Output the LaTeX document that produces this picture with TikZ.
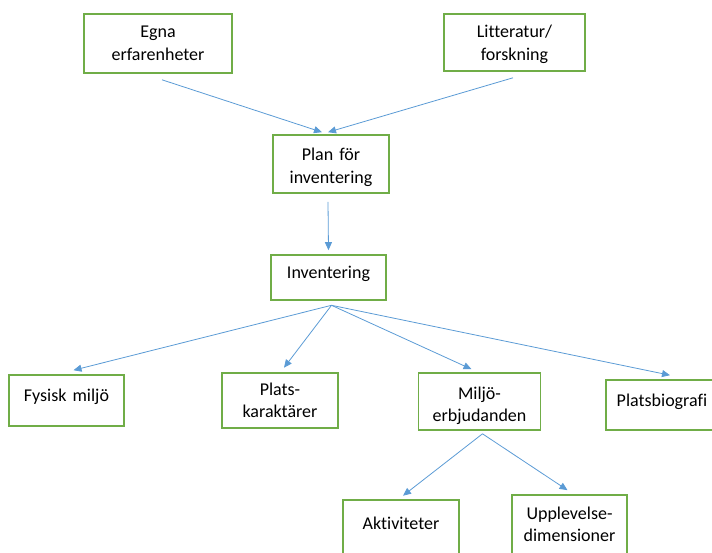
\documentclass[tikz,border=0pt]{standalone}
\usepackage{fontspec}
\setmainfont{Carlito}[Ligatures=NoCommon]
\usetikzlibrary{arrows.meta}
\definecolor{boxgreen}{HTML}{70AD47}
\definecolor{linkblue}{HTML}{5B9BD5}
\tikzset{
  box/.style={draw=boxgreen, line width=1.6pt, inner sep=0pt, align=center,
    font=\fontsize{18}{22.5}\selectfont},
  link/.style={draw=linkblue, line width=0.8pt, -{Triangle[length=8pt,width=7pt]}}
}

\begin{document}
\begin{tikzpicture}[x=1pt,y=1pt]
\useasboundingbox (0,0) rectangle (712,552);
\clip (0,0) rectangle (712,552);
\node[box, text width=148pt, text height=24pt, text depth=35pt] (egna) at (158,508.5) {Egna\\erfarenheter};
\node[box, text width=141pt, text height=24pt, text depth=33pt] (lit) at (514.5,509.5) {Litteratur/\\forskning};
\node[box, text width=116pt, text height=26pt, text depth=32pt] (plan) at (331,388) {Plan för\\inventering};
\node[box, text width=115pt, text height=24pt, text depth=21pt] (inv) at (328.5,274.5) {Inventering};
\node[box, text width=115pt, text height=26pt, text depth=25pt] (fys) at (66.5,151.5) {Fysisk miljö};
\node[box, text width=116pt, text height=22pt, text depth=33pt] (plats) at (280,151.5) {Plats-\\karaktärer};
\node[box, text width=122pt, text height=26pt, text depth=31pt] (miljo) at (479.5,150.5) {Miljö-\\erbjudanden};
\node[box, text width=112pt, text height=26pt, text depth=24pt] (bio) at (662,147) {Platsbiografi};
\node[box, text width=116pt, text height=29pt, text depth=41pt] (akt) at (401,17) {Aktiviteter};
\node[box, text width=115pt, text height=24pt, text depth=51pt] (upp) at (569.5,19.5) {Upplevelse-\\dimensioner};
% free ends of the arrows
\coordinate (egna-out) at ([shift={(4,-6)}]egna.south);
\coordinate (lit-out) at ([shift={(-1.5,-6)}]lit.south);
\coordinate (plan-in1) at ([shift={(-9,2)}]plan.north);
\coordinate (plan-in2) at ([shift={(-3,2)}]plan.north);
\coordinate (plan-out) at ([shift={(-3,-8)}]plan.south);
\coordinate (inv-in) at ([shift={(0,4)}]inv.north);
\coordinate (inv-out) at ([shift={(3,-4.5)}]inv.south);
\coordinate (fys-in) at ([shift={(7,4)}]fys.north);
\coordinate (plats-in) at ([shift={(4,4.5)}]plats.north);
\coordinate (miljo-in) at ([shift={(-8,3)}]miljo.north);
\coordinate (bio-in) at ([shift={(8,4)}]bio.north);
\coordinate (miljo-out) at ([shift={(3,-3)}]miljo.south);
\coordinate (akt-in) at ([shift={(2,3.5)}]akt.north);
\coordinate (upp-in) at ([shift={(-2,4)}]upp.north);
\draw[link] (egna-out) -- (plan-in1);
\draw[link] (lit-out) -- (plan-in2);
\draw[link] (plan-out) -- (inv-in);
\draw[link] (inv-out) -- (fys-in);
\draw[link] (inv-out) -- (plats-in);
\draw[link] (inv-out) -- (miljo-in);
\draw[link] (inv-out) -- (bio-in);
\draw[link] (miljo-out) -- (akt-in);
\draw[link] (miljo-out) -- (upp-in);
\end{tikzpicture}
\end{document}
